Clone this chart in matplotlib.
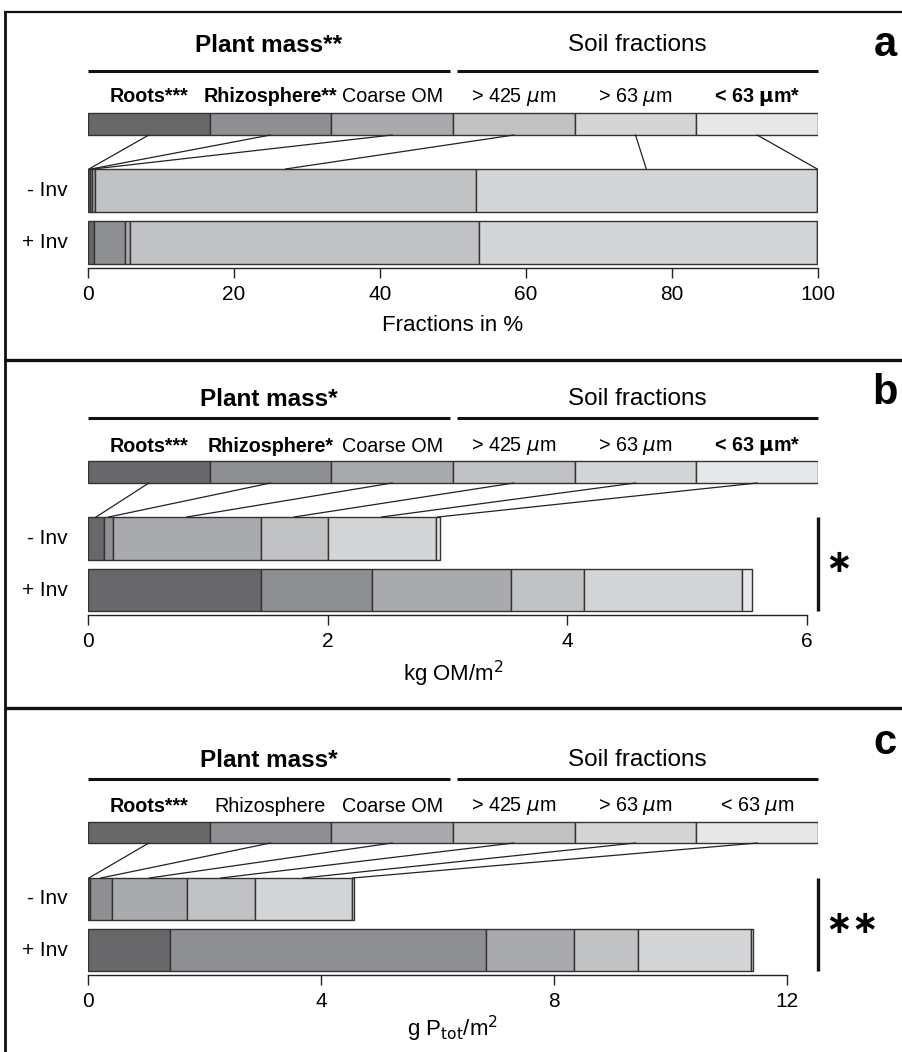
import matplotlib
matplotlib.use('Agg')
import matplotlib.pyplot as plt
from matplotlib.lines import Line2D

plt.rcParams['font.family'] = ['Liberation Sans Narrow', 'Liberation Sans', 'DejaVu Sans']
plt.rcParams['mathtext.fontset'] = 'custom'
plt.rcParams['mathtext.rm'] = 'Liberation Sans Narrow'
plt.rcParams['mathtext.it'] = 'Liberation Sans Narrow:italic'
plt.rcParams['mathtext.bf'] = 'Liberation Sans Narrow:bold'

# fractions, in stacking order
fractions = ['Roots', 'Rhizosphere', 'Coarse OM', '> 425 um', '> 63 um', '< 63 um']
colors = ['#68686a', '#8e8f92', '#a9aaad', '#c1c2c4', '#d4d5d7', '#e6e7e8']
treatments = ['- Inv', '+ Inv']

# a: fractions in %
pct_minus = [0.27, 0.23, 0.46, 52.2, 46.64, 0.2]
pct_plus = [0.86, 4.24, 0.65, 47.75, 46.3, 0.2]
# b: kg OM/m2
om_minus = [0.135, 0.075, 1.23, 0.56, 0.90, 0.04]
om_plus = [1.44, 0.93, 1.16, 0.61, 1.32, 0.08]
# c: g Ptot/m2
p_minus = [0.03, 0.38, 1.29, 1.16, 1.67, 0.03]
p_plus = [1.41, 5.43, 1.50, 1.11, 1.93, 0.03]

labels_a = [('Roots***', 'bold'), ('Rhizosphere**', 'bold'), ('Coarse OM', 'normal'),
            (r'> 425 $\mu$m', 'normal'), (r'> 63 $\mu$m', 'normal'), (r'< 63 $\mathbf{\mu}$m*', 'bold')]
labels_b = [('Roots***', 'bold'), ('Rhizosphere*', 'bold'), ('Coarse OM', 'normal'),
            (r'> 425 $\mu$m', 'normal'), (r'> 63 $\mu$m', 'normal'), (r'< 63 $\mathbf{\mu}$m*', 'bold')]
labels_c = [('Roots***', 'bold'), ('Rhizosphere', 'normal'), ('Coarse OM', 'normal'),
            (r'> 425 $\mu$m', 'normal'), (r'> 63 $\mu$m', 'normal'), (r'< 63 $\mu$m', 'normal')]

W, H = 902, 1052
fig = plt.figure(figsize=(W / 100, H / 100), dpi=100)

X0, X1 = 88, 818  # pixel extent of the bars area


def panel(top, ax_y, xmax, tickmax, ticks, vals, labels, head, y, letter, xlabel, sig=None, xlabel_y=None):
    # y: dict of pixel rows
    ax = fig.add_axes([X0 / W, 1 - ax_y / H, (X1 - X0) / W, (ax_y - top) / H])
    ax.set_xlim(0, xmax)
    ax.set_ylim(ax_y, top)
    for s in ['top', 'right', 'left']:
        ax.spines[s].set_visible(False)
    ax.spines['bottom'].set_bounds(0, tickmax)
    ax.spines['bottom'].set_linewidth(1.0)
    ax.spines['bottom'].set_color('#222222')
    ax.set_yticks([])
    ax.set_xticks(ticks)
    ax.tick_params(axis='x', length=7, width=1.0, labelsize=15, pad=5, color='#222222')

    def px(p):
        return (p - X0) / (X1 - X0) * xmax

    # header
    ax.text(px(269), y['head'], head, ha='center', va='center', fontsize=17.5, fontweight='bold', clip_on=False)
    ax.text(px(637), y['head'], 'Soil fractions', ha='center', va='center', fontsize=17.5, clip_on=False)
    ax.plot([px(88), px(450)], [y['hline']] * 2, color='#111111', lw=2.2, solid_capstyle='butt', clip_on=False)
    ax.plot([px(457), px(818)], [y['hline']] * 2, color='#111111', lw=2.2, solid_capstyle='butt', clip_on=False)

    # legend bar
    seg = xmax / 6
    for i in range(6):
        ax.barh((y['bar0'] + y['bar1']) / 2, seg, left=i * seg, height=y['bar1'] - y['bar0'],
                color=colors[i], edgecolor='#333333', linewidth=1.0)
        txt, wt = labels[i]
        ax.text((i + 0.5) * seg, y['lab'], txt, ha='center', va='center', fontsize=14.2,
                fontweight=wt, clip_on=False)

    # data bars
    rows = [(y['m0'], y['m1'], vals[0]), (y['p0'], y['p1'], vals[1])]
    for (r0, r1, v), name in zip(rows, treatments):
        left = 0
        for i in range(6):
            ax.barh((r0 + r1) / 2, v[i], left=left, height=r1 - r0, color=colors[i],
                    edgecolor='#333333', linewidth=1.0)
            left += v[i]
        ax.text(px(68), (r0 + r1) / 2, name, ha='right', va='center', fontsize=15, clip_on=False)

    # connector lines from legend bar to the - Inv bar
    left = 0
    for i in range(6):
        mid = left + vals[0][i] / 2
        ax.plot([(i + 0.5) * seg, mid], [y['bar1'], y['m0']], color='#222222', lw=0.9)
        left += vals[0][i]

    ax.text(px(885), y['letter'], letter, ha='center', va='center', fontsize=30,
            fontweight='bold', family=['Liberation Sans', 'DejaVu Sans'], clip_on=False)
    ax.set_xlabel(xlabel, fontsize=16, labelpad=xlabel_y)

    if sig is not None:
        ax.plot([xmax, xmax], [y['m0'], y['p1']], color='#111111', lw=2.4, clip_on=False,
                solid_capstyle='butt')
        ax.text(px(sig[0]), (y['m0'] + y['p1']) / 2, sig[1], ha='center', va='center',
                fontsize=23, fontweight='bold', family=['DejaVu Sans'], clip_on=False)
    return ax


panel(12, 268, 100.0, 100, [0, 20, 40, 60, 80, 100], (pct_minus, pct_plus), labels_a, 'Plant mass**',
      dict(head=45, hline=71, lab=97, bar0=113, bar1=135, m0=169, m1=212, p0=221, p1=264, letter=45),
      'a', 'Fractions in %', xlabel_y=8)

panel(360, 615, 6 * (818 - 88) / (807 - 88), 6, [0, 2, 4, 6], (om_minus, om_plus), labels_b, 'Plant mass*',
      dict(head=399, hline=418, lab=446, bar0=461, bar1=483, m0=517, m1=560, p0=569, p1=611, letter=393),
      'b', r'kg OM/m$^2$', sig=(839, '\u2217'), xlabel_y=6)

panel(708, 975, 12 * (818 - 88) / (787 - 88), 12, [0, 4, 8, 12], (p_minus, p_plus), labels_c, 'Plant mass*',
      dict(head=760, hline=779, lab=806, bar0=822, bar1=843, m0=878, m1=920, p0=929, p1=971, letter=743),
      'c', r'g P$_{\mathrm{tot}}$/m$^2$', sig=(852, '\u2217\u2217'), xlabel_y=2)


# panel frames
def fline(xs, ys, lw):
    fig.add_artist(Line2D([x / W for x in xs], [1 - v / H for v in ys], color='#111111', lw=lw,
                          transform=fig.transFigure, solid_capstyle='butt'))


fline([5, 5], [11, H], 2.0)
fline([4, W], [12, 12], 1.6)
fline([4, W], [360, 360], 2.4)
fline([4, W], [708, 708], 2.4)

fig.savefig('out.png', dpi=100)
